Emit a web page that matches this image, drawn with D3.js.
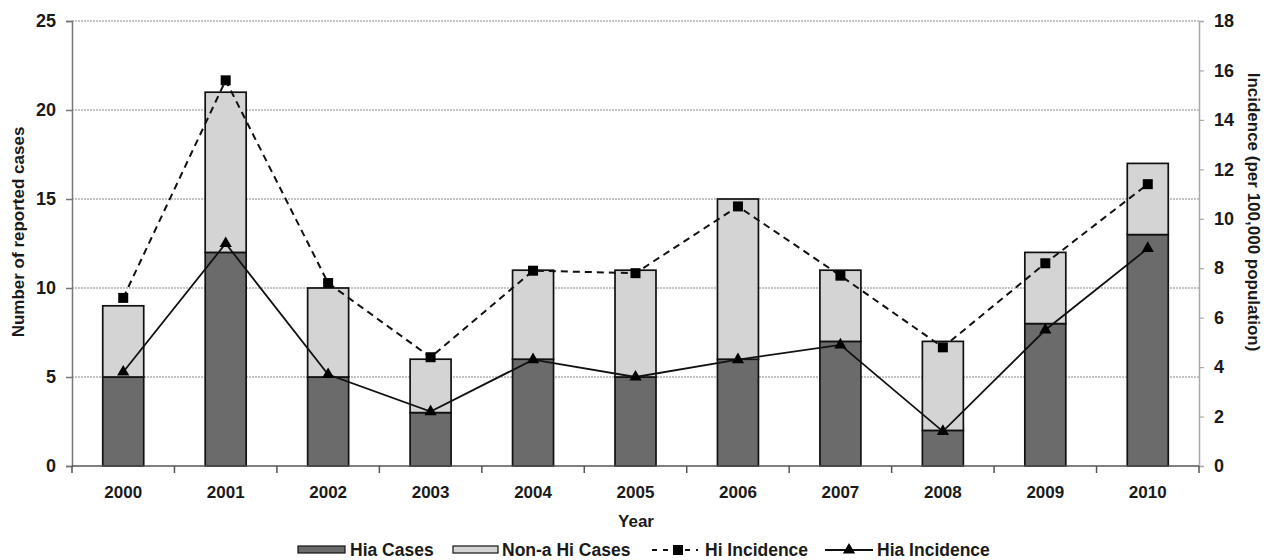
<!DOCTYPE html>
<html>
<head>
<meta charset="utf-8">
<script src="https://cdn.jsdelivr.net/npm/d3@7"></script>
<style>
  body { margin: 0; background: #fff; }
  svg { font-family: "Liberation Sans", Arial, sans-serif; font-weight: bold; }
</style>
</head>
<body>
<svg id="chart" width="1272" height="560"></svg>
<script>
const years = ["2000","2001","2002","2003","2004","2005","2006","2007","2008","2009","2010"];
const hiaCases = [5, 12, 5, 3, 6, 5, 6, 7, 2, 8, 13];
const nonACases = [4, 9, 5, 3, 5, 6, 9, 4, 5, 4, 4];
const hiIncidence = [6.8, 15.6, 7.4, 4.4, 7.9, 7.8, 10.5, 7.7, 4.8, 8.2, 11.4];
const hiaIncidence = [3.8, 9.0, 3.7, 2.2, 4.3, 3.6, 4.3, 4.9, 1.4, 5.5, 8.8];
const leftTicks = [0, 5, 10, 15, 20, 25];
const rightTicks = [0, 2, 4, 6, 8, 10, 12, 14, 16, 18];

const svg = d3.select("#chart");
const L = 72, R = 1199, T = 21, B = 466;
const textColor = "#1a1a1a";
const FONT = "Liberation Sans, Arial, sans-serif";

const x = d3.scaleBand().domain(years).range([L, R]).paddingInner(0.6).paddingOuter(0.3);
const xb = d3.scaleBand().domain(years).range([L, R]);
const yL = d3.scaleLinear().domain([0, 25]).range([B, T]);
const yR = d3.scaleLinear().domain([0, 18]).range([B, T]);

// gridlines
svg.append("g").selectAll("line").data(leftTicks.filter(d => d > 0)).join("line")
  .attr("x1", L).attr("x2", R)
  .attr("y1", d => yL(d)).attr("y2", d => yL(d))
  .attr("stroke", "#8a8a8a").attr("stroke-width", 1.2).attr("stroke-dasharray", "2,1");

// bars
const stackData = years.map((y, i) => ({year: y, hia: hiaCases[i], non: nonACases[i]}));
const stacked = d3.stack().keys(["hia", "non"])(stackData);
const fills = {hia: "#6b6b6b", non: "#d4d4d4"};
svg.append("g").selectAll("g").data(stacked).join("g")
  .attr("fill", d => fills[d.key])
  .selectAll("rect").data(d => d).join("rect")
  .attr("x", d => x(d.data.year))
  .attr("width", x.bandwidth())
  .attr("y", d => yL(d[1]))
  .attr("height", d => yL(d[0]) - yL(d[1]))
  .attr("stroke", "#111").attr("stroke-width", 1.7);

// left axis
const axL = svg.append("g").attr("transform", `translate(${L},0)`)
  .call(d3.axisLeft(yL).tickValues(leftTicks).tickSize(6).tickPadding(10));
axL.select(".domain").attr("stroke", "#777").attr("stroke-width", 1.5);
axL.selectAll(".tick line").attr("stroke", "#777").attr("stroke-width", 1.5);
axL.selectAll("text").attr("font-size", 18).attr("font-weight", "bold")
  .attr("font-family", FONT).attr("fill", textColor);

// right axis
const axR = svg.append("g").attr("transform", `translate(${R},0)`)
  .call(d3.axisRight(yR).tickValues(rightTicks).tickSize(5).tickPadding(10));
axR.select(".domain").attr("stroke", "#aaa").attr("stroke-width", 1.5);
axR.selectAll(".tick line").attr("stroke", "#aaa").attr("stroke-width", 1.2);
axR.selectAll("text").attr("font-size", 18).attr("font-weight", "bold")
  .attr("font-family", FONT).attr("fill", textColor);

// x axis
const axX = svg.append("g").attr("transform", `translate(0,${B})`)
  .call(d3.axisBottom(x).tickSize(0).tickPadding(20));
axX.select(".domain").remove();
axX.selectAll("text").attr("font-size", 17).attr("font-weight", "bold")
  .attr("font-family", FONT).attr("fill", textColor);
svg.append("line").attr("x1", L).attr("x2", R).attr("y1", B).attr("y2", B)
  .attr("stroke", "#555").attr("stroke-width", 1.5);
const boundaries = years.map(y => xb(y)).concat([R]);
svg.append("g").selectAll("line").data(boundaries).join("line")
  .attr("x1", d => d).attr("x2", d => d).attr("y1", B).attr("y2", B + 7)
  .attr("stroke", "#555").attr("stroke-width", 1.5);

// lines
const cx = i => x(years[i]) + x.bandwidth() / 2;
const incLine = d3.line().x((d, i) => cx(i)).y(d => yR(d));
svg.append("path").datum(hiIncidence).attr("d", incLine)
  .attr("fill", "none").attr("stroke", "#111").attr("stroke-width", 2).attr("stroke-dasharray", "7,5");
svg.append("path").datum(hiaIncidence).attr("d", incLine)
  .attr("fill", "none").attr("stroke", "#111").attr("stroke-width", 1.8);

svg.append("g").selectAll("rect").data(hiIncidence).join("rect")
  .attr("x", (d, i) => cx(i) - 5).attr("y", d => yR(d) - 5)
  .attr("width", 10).attr("height", 10).attr("fill", "#000");
const tri = d3.symbol().type(d3.symbolTriangle).size(65);
svg.append("g").selectAll("path").data(hiaIncidence).join("path")
  .attr("d", tri).attr("transform", (d, i) => `translate(${cx(i)},${yR(d)})`).attr("fill", "#000");

// axis titles
svg.append("text").attr("transform", `translate(24,232) rotate(-90)`)
  .attr("text-anchor", "middle").attr("font-size", 17).attr("fill", textColor)
  .text("Number of reported cases");
svg.append("text").attr("transform", `translate(1248,212) rotate(90)`)
  .attr("text-anchor", "middle").attr("font-size", 17).attr("fill", textColor)
  .text("Incidence (per 100,000 population)");
svg.append("text").attr("x", 636).attr("y", 527).attr("text-anchor", "middle")
  .attr("font-size", 17).attr("fill", textColor).text("Year");

// legend
const lg = svg.append("g");
const ly = 550;
const LFS = 17.5;
lg.append("rect").attr("x", 298).attr("y", ly - 4).attr("width", 47).attr("height", 7)
  .attr("fill", fills.hia).attr("stroke", "#111").attr("stroke-width", 1.2);
lg.append("text").attr("x", 350).attr("y", ly + 6).attr("font-size", LFS).attr("fill", textColor).text("Hia Cases");
lg.append("rect").attr("x", 453).attr("y", ly - 4).attr("width", 45).attr("height", 7)
  .attr("fill", fills.non).attr("stroke", "#111").attr("stroke-width", 1.2);
lg.append("text").attr("x", 502).attr("y", ly + 6).attr("font-size", LFS).attr("fill", textColor).text("Non-a Hi Cases");
lg.append("line").attr("x1", 652).attr("x2", 698).attr("y1", ly).attr("y2", ly)
  .attr("stroke", "#111").attr("stroke-width", 2).attr("stroke-dasharray", "5,6");
lg.append("rect").attr("x", 673).attr("y", ly - 5).attr("width", 10).attr("height", 10).attr("fill", "#000");
lg.append("text").attr("x", 705).attr("y", ly + 6).attr("font-size", LFS).attr("fill", textColor).text("Hi Incidence");
lg.append("line").attr("x1", 825).attr("x2", 873).attr("y1", ly).attr("y2", ly)
  .attr("stroke", "#111").attr("stroke-width", 1.8);
lg.append("path").attr("d", tri).attr("transform", `translate(849,${ly})`).attr("fill", "#000");
lg.append("text").attr("x", 877).attr("y", ly + 6).attr("font-size", LFS).attr("fill", textColor).text("Hia Incidence");
</script>
</body>
</html>
